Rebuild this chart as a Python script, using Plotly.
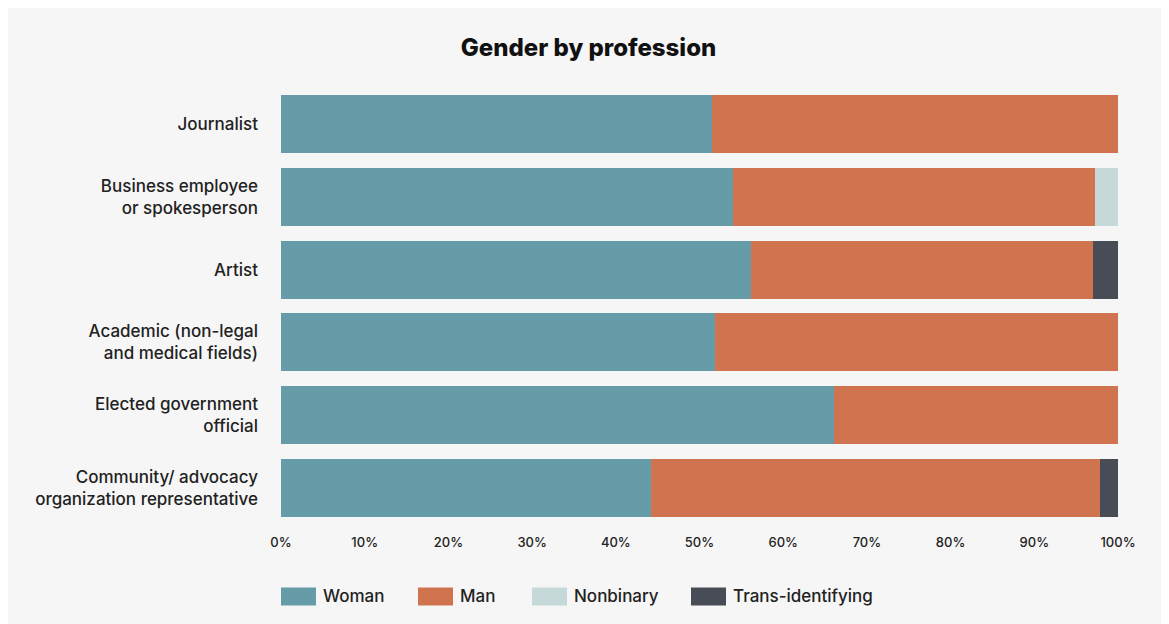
import plotly.graph_objects as go

professions = [
    "Journalist",
    "Business employee<br>or spokesperson",
    "Artist",
    "Academic (non-legal<br>and medical fields)",
    "Elected government<br>official",
    "Community/ advocacy<br>organization representative",
]

woman = [51.5, 54.0, 56.2, 51.9, 66.1, 44.2]
man = [48.5, 43.3, 40.8, 48.1, 33.9, 53.6]
nonbinary = [0, 2.7, 0, 0, 0, 0]
trans = [0, 0, 3.0, 0, 0, 2.2]

series = [
    ("Woman", woman, "#659ca7"),
    ("Man", man, "#d0744f"),
    ("Nonbinary", nonbinary, "#c6d9d9"),
    ("Trans-identifying", trans, "#474c57"),
]

# page has an 8px body margin, figure sits at (8, 8)
OFF = 8
W, H = 1161, 616
L, R, T, B = 273, 51, 80, 99.5
PW, PH = W - L - R, H - T - B


def px_x(px):
    return (px - OFF - L) / PW


def px_y(py):
    return (H - B - (py - OFF)) / PH


FONT = "Inter"
TEXT = "#222222"

fig = go.Figure()
for name, vals, color in series:
    fig.add_trace(go.Bar(
        y=professions,
        x=vals,
        name=name,
        orientation="h",
        marker=dict(color=color, line=dict(width=0)),
        showlegend=False,
    ))

# legend drawn by hand for wide swatches
legend_x = [281, 418, 532, 691]
shapes = []
annotations = []
for (name, vals, color), lx in zip(series, legend_x):
    shapes.append(dict(
        type="rect", xref="paper", yref="paper",
        x0=px_x(lx), x1=px_x(lx + 35), y0=px_y(606), y1=px_y(588),
        fillcolor=color, line=dict(width=0),
    ))
    annotations.append(dict(
        xref="paper", yref="paper", x=px_x(lx + 40), y=px_y(597),
        text=name, showarrow=False, xanchor="left", yanchor="middle",
        font=dict(family=FONT, size=17, color=TEXT, weight=500),
    ))

fig.update_layout(
    barmode="stack",
    bargap=0.2,
    width=W,
    height=H,
    margin=dict(l=L, r=R, t=T, b=B),
    paper_bgcolor="#f6f6f6",
    plot_bgcolor="#f6f6f6",
    title=dict(
        text="Gender by profession",
        x=0.5, xref="container", xanchor="center",
        y=1 - 40 / H, yref="container", yanchor="middle",
        font=dict(family=FONT, size=24, color="#111111", weight=800),
    ),
    xaxis=dict(
        range=[0, 100],
        dtick=10,
        ticksuffix="%",
        showgrid=False,
        zeroline=False,
        showline=False,
        ticks="outside",
        ticklen=6,
        tickcolor="rgba(0,0,0,0)",
        tickfont=dict(family=FONT, size=13, color=TEXT, weight=500),
    ),
    yaxis=dict(
        autorange="reversed",
        showgrid=False,
        showline=False,
        ticks="",
        ticklabelstandoff=22,
        tickfont=dict(family=FONT, size=17, color=TEXT, weight=500),
    ),
    shapes=shapes,
    annotations=annotations,
    font=dict(family=FONT, color=TEXT),
)

fig.write_html("out.html")
